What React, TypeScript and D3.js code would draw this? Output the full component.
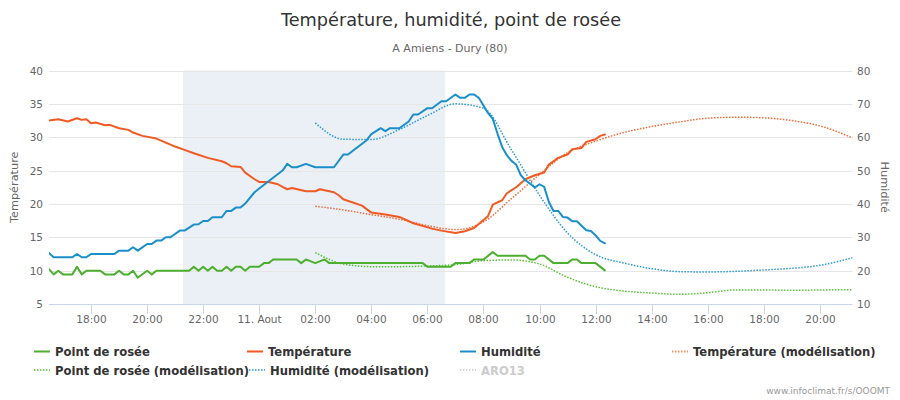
import React from "react";
import * as d3 from "d3";

// ---------- DATA ----------
const TITLE = "Température, humidité, point de rosée";
const SUBTITLE = "A Amiens - Dury (80)";
const CREDIT = "www.infoclimat.fr/s/OOOMT";
const Y_LEFT_TITLE = "Température";
const Y_RIGHT_TITLE = "Humidité";

const X_RANGE = ["10 16:30", "11 21:10"];
const NIGHT_BAND = ["10 21:17", "11 06:38"];
const LEFT_TICKS = [5, 10, 15, 20, 25, 30, 35, 40];
const RIGHT_TICKS = [10, 20, 30, 40, 50, 60, 70, 80];
const MIDNIGHT_LABEL = "11. Aout";

// Observed temperature (°C)
const tempObs: [string, number][] = [
  ["10 16:30", 32.5], ["10 16:50", 32.7], ["10 17:10", 32.35], ["10 17:30", 32.85],
  ["10 17:40", 32.6], ["10 17:50", 32.7], ["10 18:00", 32.1], ["10 18:10", 32.2],
  ["10 18:30", 31.8], ["10 18:40", 31.85], ["10 19:00", 31.35], ["10 19:20", 31.1],
  ["10 19:30", 30.7], ["10 19:50", 30.2], ["10 20:20", 29.8], ["10 20:40", 29.2],
  ["10 21:00", 28.6], ["10 21:20", 28.1], ["10 21:40", 27.6], ["10 22:10", 26.9],
  ["10 22:40", 26.4], ["10 22:50", 26.1], ["10 23:00", 25.65], ["10 23:20", 25.55],
  ["10 23:30", 24.7], ["10 23:50", 23.7], ["11 00:00", 23.3], ["11 00:20", 23.3],
  ["11 00:40", 22.95], ["11 00:50", 22.55], ["11 01:00", 22.2], ["11 01:10", 22.4],
  ["11 01:40", 21.9], ["11 02:00", 21.9], ["11 02:10", 22.2], ["11 02:40", 21.75],
  ["11 02:50", 21.3], ["11 03:00", 20.7], ["11 03:40", 19.75], ["11 04:00", 18.7],
  ["11 04:30", 18.4], ["11 05:00", 18.05], ["11 05:30", 17.1], ["11 06:10", 16.3],
  ["11 06:30", 16.0], ["11 07:00", 15.65], ["11 07:20", 15.9], ["11 07:40", 16.4],
  ["11 07:50", 17.0], ["11 08:10", 18.2], ["11 08:20", 19.9], ["11 08:40", 20.55],
  ["11 08:50", 21.6], ["11 09:10", 22.5], ["11 09:30", 23.7], ["11 09:50", 24.3],
  ["11 10:10", 24.7], ["11 10:20", 25.9], ["11 10:40", 26.9], ["11 11:00", 27.4],
  ["11 11:10", 28.2], ["11 11:30", 28.4], ["11 11:40", 29.3], ["11 12:00", 29.7],
  ["11 12:10", 30.2], ["11 12:20", 30.4],
];

// Observed relative humidity (%)
const humObs: [string, number][] = [
  ["10 16:30", 25.3], ["10 16:40", 24.0], ["10 17:20", 24.0], ["10 17:30", 25.0],
  ["10 17:40", 24.0], ["10 17:50", 24.0], ["10 18:00", 25.0], ["10 18:50", 25.0],
  ["10 19:00", 26.0], ["10 19:20", 26.0], ["10 19:30", 27.0], ["10 19:40", 26.0],
  ["10 20:00", 28.0], ["10 20:10", 28.0], ["10 20:20", 29.0], ["10 20:30", 29.0],
  ["10 20:40", 30.0], ["10 20:50", 30.0], ["10 21:10", 32.0], ["10 21:20", 32.0],
  ["10 21:40", 33.8], ["10 21:50", 33.9], ["10 22:00", 34.9], ["10 22:10", 34.9],
  ["10 22:20", 36.0], ["10 22:40", 36.0], ["10 22:50", 37.9], ["10 23:00", 37.9],
  ["10 23:10", 38.9], ["10 23:20", 38.9], ["10 23:30", 40.1], ["10 23:50", 43.5],
  ["11 00:00", 44.6], ["11 00:20", 46.8], ["11 00:50", 50.0], ["11 01:00", 52.0],
  ["11 01:10", 51.0], ["11 01:20", 51.0], ["11 01:40", 52.0], ["11 02:00", 51.0],
  ["11 02:40", 51.0], ["11 03:00", 54.8], ["11 03:10", 54.8], ["11 03:50", 59.1],
  ["11 04:00", 60.9], ["11 04:20", 62.7], ["11 04:30", 61.8], ["11 04:40", 62.7],
  ["11 05:00", 62.7], ["11 05:20", 64.7], ["11 05:30", 66.8], ["11 05:40", 66.8],
  ["11 06:00", 68.7], ["11 06:10", 68.7], ["11 06:30", 70.8], ["11 06:40", 70.8],
  ["11 07:00", 72.8], ["11 07:10", 71.8], ["11 07:20", 71.8], ["11 07:30", 72.8],
  ["11 07:40", 72.8], ["11 07:50", 71.8], ["11 08:00", 69.5], ["11 08:10", 67.2],
  ["11 08:20", 65.5], ["11 08:30", 61.1], ["11 08:40", 57.1], ["11 08:50", 54.6],
  ["11 09:00", 52.9], ["11 09:10", 51.8], ["11 09:20", 48.6], ["11 09:30", 47.1],
  ["11 09:50", 44.9], ["11 10:00", 45.9], ["11 10:10", 45.1], ["11 10:20", 40.6],
  ["11 10:30", 37.9], ["11 10:40", 37.9], ["11 10:50", 36.1], ["11 11:00", 35.9],
  ["11 11:10", 34.8], ["11 11:20", 34.8], ["11 11:40", 32.1], ["11 11:50", 31.9],
  ["11 12:00", 30.6], ["11 12:10", 28.9], ["11 12:20", 28.2],
];

// Observed dew point (°C)
const dewObs: [string, number][] = [
  ["10 16:30", 10.23], ["10 16:40", 9.44], ["10 16:50", 9.98], ["10 17:00", 9.44],
  ["10 17:20", 9.44], ["10 17:30", 10.58], ["10 17:40", 9.44], ["10 17:50", 9.98],
  ["10 18:20", 9.98], ["10 18:30", 9.44], ["10 18:50", 9.44], ["10 19:00", 9.98],
  ["10 19:10", 9.44], ["10 19:20", 9.44], ["10 19:30", 9.98], ["10 19:40", 8.94],
  ["10 20:00", 9.98], ["10 20:10", 9.44], ["10 20:20", 9.98], ["10 21:30", 9.98],
  ["10 21:40", 10.58], ["10 21:50", 9.98], ["10 22:00", 10.58], ["10 22:10", 9.98],
  ["10 22:20", 10.58], ["10 22:30", 9.98], ["10 22:40", 9.98], ["10 22:50", 10.58],
  ["10 23:00", 9.98], ["10 23:10", 10.58], ["10 23:20", 10.58], ["10 23:30", 9.98],
  ["10 23:40", 10.58], ["11 00:00", 10.58], ["11 00:10", 11.13], ["11 00:20", 11.13],
  ["11 00:30", 11.68], ["11 01:20", 11.68], ["11 01:30", 11.13], ["11 01:40", 11.68],
  ["11 02:00", 11.13], ["11 02:20", 11.68], ["11 02:30", 11.13], ["11 05:50", 11.13],
  ["11 06:00", 10.58], ["11 06:50", 10.58], ["11 07:00", 11.13], ["11 07:30", 11.13],
  ["11 07:40", 11.68], ["11 08:00", 11.68], ["11 08:20", 12.78], ["11 08:30", 12.23],
  ["11 09:30", 12.23], ["11 09:40", 11.68], ["11 09:50", 11.68], ["11 10:00", 12.23],
  ["11 10:10", 12.23], ["11 10:30", 11.13], ["11 11:00", 11.13], ["11 11:10", 11.68],
  ["11 11:20", 11.68], ["11 11:30", 11.13], ["11 12:00", 11.13], ["11 12:20", 10.04],
];

// Model (modélisation) series
const tempModel: [string, number][] = [
  ["11 02:00", 19.66], ["11 03:00", 19.1], ["11 04:00", 18.4], ["11 05:00", 17.7],
  ["11 06:00", 16.75], ["11 07:00", 16.15], ["11 08:00", 17.3], ["11 09:00", 20.8],
  ["11 10:00", 24.4], ["11 11:00", 27.7], ["11 12:00", 29.4], ["11 13:00", 30.7],
  ["11 14:00", 31.6], ["11 15:00", 32.3], ["11 16:00", 32.85], ["11 17:00", 33.0],
  ["11 18:00", 32.9], ["11 19:00", 32.5], ["11 20:00", 31.7], ["11 21:00", 30.2],
  ["11 21:10", 29.9],
];
const humModel: [string, number][] = [
  ["11 02:00", 64.3], ["11 03:00", 59.4], ["11 04:00", 59.3], ["11 05:00", 62.3],
  ["11 06:00", 66.5], ["11 07:00", 70.0], ["11 08:00", 68.7], ["11 09:00", 56.2],
  ["11 10:00", 42.6], ["11 11:00", 31.3], ["11 12:00", 24.8], ["11 13:00", 22.3],
  ["11 14:00", 20.6], ["11 15:00", 19.7], ["11 16:00", 19.6], ["11 17:00", 19.8],
  ["11 18:00", 20.2], ["11 19:00", 20.7], ["11 20:00", 21.6], ["11 21:00", 23.5],
  ["11 21:10", 23.9],
];
const dewModel: [string, number][] = [
  ["11 02:00", 12.7], ["11 03:00", 11.0], ["11 04:00", 10.6], ["11 05:00", 10.6],
  ["11 06:00", 10.7], ["11 07:00", 10.9], ["11 08:00", 11.5], ["11 09:00", 11.6],
  ["11 10:00", 11.0], ["11 11:00", 9.0], ["11 12:00", 7.6], ["11 13:00", 6.95],
  ["11 14:00", 6.65], ["11 15:00", 6.45], ["11 16:00", 6.7], ["11 17:00", 7.1],
  ["11 18:00", 7.1], ["11 19:00", 7.05], ["11 20:00", 7.1], ["11 21:00", 7.15],
  ["11 21:10", 7.15],
];

// Legend entries (label, series key, hidden)
const LEGEND_LABELS = [
  "Point de rosée", "Température", "Humidité", "Température (modélisation)",
  "Point de rosée (modélisation)", "Humidité (modélisation)", "ARO13",
];

// ---------- STYLE ----------
const W = 900;
const H = 400;
const PLOT = { left: 49, right: 852.5, top: 70.5, bottom: 304 };
const FONT = "'DejaVu Sans', Verdana, sans-serif";
const COL = {
  temp: "#f15a22",
  hum: "#1a8fc9",
  dew: "#4caf2f",
  tempM: "#f26a36",
  humM: "#2a9ad4",
  dewM: "#55c236",
  grid: "#e6e6e6",
  axis: "#ccd6eb",
  band: "#ebeff6",
  label: "#666666",
};

const parse = d3.timeParse("%d %H:%M");
type Pt = { t: Date; v: number };
const toPts = (a: [string, number][]): Pt[] => a.map(([t, v]) => ({ t: parse(t) as Date, v }));

export default function App() {
  const x = d3
    .scaleTime()
    .domain([parse(X_RANGE[0]) as Date, parse(X_RANGE[1]) as Date])
    .range([PLOT.left, PLOT.right]);
  const yL = d3.scaleLinear().domain([5, 40]).range([PLOT.bottom, PLOT.top]);
  const yR = d3.scaleLinear().domain([10, 80]).range([PLOT.bottom, PLOT.top]);

  const lineL = d3.line<Pt>().x((d) => x(d.t)).y((d) => yL(d.v));
  const lineR = d3.line<Pt>().x((d) => x(d.t)).y((d) => yR(d.v));
  const splineL = d3.line<Pt>().x((d) => x(d.t)).y((d) => yL(d.v)).curve(d3.curveMonotoneX);
  const splineR = d3.line<Pt>().x((d) => x(d.t)).y((d) => yR(d.v)).curve(d3.curveMonotoneX);

  const xTicks = d3.timeHour.every(2)!.range(x.domain()[0], x.domain()[1]);
  const fmt = d3.timeFormat("%H:%M");
  const tickLabel = (d: Date) => (d.getHours() === 0 ? MIDNIGHT_LABEL : fmt(d));

  const bandX0 = x(parse(NIGHT_BAND[0]) as Date);
  const bandX1 = x(parse(NIGHT_BAND[1]) as Date);

  const dotted = "1.5,1.5";

  const legendItems = [
    { label: LEGEND_LABELS[0], color: COL.dew, dash: null, x: 34, y: 351.5 },
    { label: LEGEND_LABELS[1], color: COL.temp, dash: null, x: 247, y: 351.5 },
    { label: LEGEND_LABELS[2], color: COL.hum, dash: null, x: 460, y: 351.5 },
    { label: LEGEND_LABELS[3], color: COL.tempM, dash: dotted, x: 672, y: 351.5 },
    { label: LEGEND_LABELS[4], color: COL.dewM, dash: dotted, x: 34, y: 370 },
    { label: LEGEND_LABELS[5], color: COL.humM, dash: dotted, x: 249, y: 370 },
    { label: LEGEND_LABELS[6], color: "#cccccc", dash: dotted, x: 460, y: 370, hidden: true },
  ];

  return (
    <svg
      width={W}
      height={H}
      style={{ position: "absolute", left: 0, top: 0, background: "#fff" }}
      fontFamily={FONT}
    >
      <defs>
        <clipPath id="plotclip">
          <rect x={PLOT.left} y={PLOT.top - 5} width={PLOT.right - PLOT.left} height={PLOT.bottom - PLOT.top + 10} />
        </clipPath>
      </defs>
      <rect x={0} y={0} width={W} height={H} fill="#fff" />

      {/* titles */}
      <text x={451} y={26} textAnchor="middle" fontSize={17.7} fill="#333333">{TITLE}</text>
      <text x={450} y={52} textAnchor="middle" fontSize={11} fill={COL.label}>{SUBTITLE}</text>

      {/* night band */}
      <rect x={bandX0} y={PLOT.top} width={bandX1 - bandX0} height={PLOT.bottom - PLOT.top} fill={COL.band} />

      {/* grid */}
      {LEFT_TICKS.filter((t) => t !== 5).map((t) => (
        <line key={"g" + t} x1={PLOT.left} x2={PLOT.right} y1={Math.round(yL(t)) + 0.5} y2={Math.round(yL(t)) + 0.5} stroke={COL.grid} strokeWidth={1} />
      ))}

      {/* x axis */}
      <line x1={PLOT.left} x2={PLOT.right} y1={PLOT.bottom + 0.5} y2={PLOT.bottom + 0.5} stroke={COL.axis} strokeWidth={1} />
      {xTicks.map((d) => {
        const xx = Math.round(x(d)) + 0.5;
        return (
          <g key={"xt" + d.getTime()}>
            <line x1={xx} x2={xx} y1={PLOT.bottom} y2={PLOT.bottom + 10} stroke={COL.axis} strokeWidth={1} />
            <text x={xx} y={322.5} textAnchor="middle" fontSize={10.5} fill={COL.label}>{tickLabel(d)}</text>
          </g>
        );
      })}

      {/* y axes labels */}
      {LEFT_TICKS.map((t) => (
        <text key={"yl" + t} x={43} y={yL(t) + 4} textAnchor="end" fontSize={10.5} fill={COL.label}>{t}</text>
      ))}
      {RIGHT_TICKS.map((t) => (
        <text key={"yr" + t} x={857} y={yR(t) + 4} textAnchor="start" fontSize={10.5} fill={COL.label}>{t}</text>
      ))}
      <text transform={`translate(18,${(PLOT.top + PLOT.bottom) / 2}) rotate(-90)`} textAnchor="middle" fontSize={11.3} fill={COL.label}>{Y_LEFT_TITLE}</text>
      <text transform={`translate(881,${(PLOT.top + PLOT.bottom) / 2}) rotate(90)`} textAnchor="middle" fontSize={11.3} fill={COL.label}>{Y_RIGHT_TITLE}</text>

      {/* series */}
      <g clipPath="url(#plotclip)" fill="none" strokeLinejoin="round" strokeLinecap="round">
        <path d={splineR(toPts(humModel)) || ""} stroke={COL.humM} strokeWidth={1.5} strokeDasharray={dotted} strokeLinecap="butt" />
        <path d={splineL(toPts(tempModel)) || ""} stroke={COL.tempM} strokeWidth={1.5} strokeDasharray={dotted} strokeLinecap="butt" />
        <path d={splineL(toPts(dewModel)) || ""} stroke={COL.dewM} strokeWidth={1.5} strokeDasharray={dotted} strokeLinecap="butt" />
        <path d={lineL(toPts(dewObs)) || ""} stroke={COL.dew} strokeWidth={2} />
        <path d={lineL(toPts(tempObs)) || ""} stroke={COL.temp} strokeWidth={2} />
        <path d={lineR(toPts(humObs)) || ""} stroke={COL.hum} strokeWidth={2} />
      </g>

      {/* legend */}
      {legendItems.map((it) => (
        <g key={it.label}>
          <line x1={it.x} x2={it.x + 16} y1={it.y} y2={it.y} stroke={it.color} strokeWidth={2} strokeDasharray={it.dash || undefined} opacity={it.dash ? 0.75 : 1} />
          <text x={it.x + 21} y={it.y + 4.5} fontSize={11.6} fontWeight="bold" fill={it.hidden ? "#cccccc" : "#333333"}>{it.label}</text>
        </g>
      ))}

      {/* credit */}
      <text x={890} y={394} textAnchor="end" fontSize={9} fill="#999999">{CREDIT}</text>
    </svg>
  );
}
